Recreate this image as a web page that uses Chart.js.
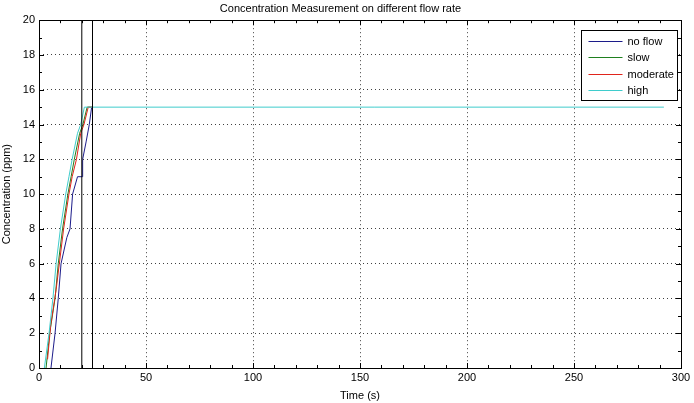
<!DOCTYPE html>
<html>
<head>
<meta charset="utf-8">
<script src="https://cdn.jsdelivr.net/npm/chart.js@4.4.0/dist/chart.umd.min.js"></script>
<style>
  html, body { margin: 0; padding: 0; background: #fff; }
  #wrap { width: 694px; height: 403px; }
</style>
</head>
<body>
<div id="wrap"><canvas id="chart"></canvas></div>
<script>
// series: time (s) and concentration (ppm)
const seriesNames = ["no flow", "slow", "moderate", "high"];
const seriesColors = ["#1c1c8a", "#1f801f", "#e0241c", "#3fcccc"];

const noFlowTime = [5.6, 7.5, 9, 10.3, 13, 14.5, 15.7, 18, 20.4, 20.4, 22, 23.5, 24.6, 25];
const noFlowConc = [0, 2, 4, 6, 7.5, 8, 10, 11, 11, 12, 13, 14, 15, 15];

const slowTime = [3.3, 5, 7.5, 9, 11, 13.5, 15, 16.5, 19, 20.5, 22.5, 25];
const slowConc = [0, 2, 4, 6, 8, 10, 11, 12, 13.5, 14, 15, 15];

const moderateTime = [4, 5.5, 8, 9.5, 11.5, 14, 15.5, 17.5, 19.5, 21, 23, 25];
const moderateConc = [0.5, 2.5, 4.5, 6, 8, 10, 11, 12, 13.5, 14, 15, 15];

const highTime = [2.5, 4.7, 6.5, 8, 10, 12.5, 14, 15.5, 18, 19.5, 21.2, 292];
const highConc = [0, 2, 4, 6, 8, 10, 11, 12, 13.5, 14, 15, 15];

// the black marker box
const boxTime = [20, 20, 25, 25];
const boxConc = [0, 20, 20, 0];

const xTicks = [0, 50, 100, 150, 200, 250, 300];
const yTicks = [0, 2, 4, 6, 8, 10, 12, 14, 16, 18, 20];

function pts(t, c) {
  return t.map((v, i) => ({ x: v, y: c[i] }));
}

const allTimes = [noFlowTime, slowTime, moderateTime, highTime];
const allConcs = [noFlowConc, slowConc, moderateConc, highConc];

const datasets = seriesNames.map((name, i) => ({
  label: name,
  data: pts(allTimes[i], allConcs[i]),
  borderColor: seriesColors[i],
  borderWidth: 1,
  showLine: true,
  pointRadius: 0,
  fill: false,
  order: 4 - i,
}));
datasets.push({
  label: "box",
  data: pts(boxTime, boxConc),
  borderColor: "#000",
  borderWidth: 1,
  showLine: true,
  pointRadius: 0,
  fill: false,
  order: 0,
});

const fontFam = "'Liberation Sans', Arial, sans-serif";

// matlab style: inward ticks on all sides and a full box
const boxTicks = {
  id: "boxTicks",
  afterDraw(chart) {
    const ctx = chart.ctx;
    const a = chart.chartArea;
    const xs = chart.scales.x;
    const ys = chart.scales.y;
    ctx.save();
    ctx.strokeStyle = "#000";
    ctx.lineWidth = 1;
    ctx.beginPath();
    for (let v = 0; v <= 300; v += 10) {
      const px = Math.round(xs.getPixelForValue(v)) + 0.5;
      const len = v % 50 === 0 ? 5 : 3;
      ctx.moveTo(px, a.bottom);
      ctx.lineTo(px, a.bottom - len);
      ctx.moveTo(px, a.top);
      ctx.lineTo(px, a.top + len);
    }
    for (let v = 0; v <= 20; v += 1) {
      const py = Math.round(ys.getPixelForValue(v)) + 0.5;
      const len = v % 2 === 0 ? 5 : 3;
      ctx.moveTo(a.left, py);
      ctx.lineTo(a.left + len, py);
      ctx.moveTo(a.right, py);
      ctx.lineTo(a.right - len, py);
    }
    ctx.stroke();
    ctx.strokeRect(Math.round(a.left) + 0.5, Math.round(a.top) + 0.5,
      Math.round(a.right - a.left), Math.round(a.bottom - a.top));
    ctx.restore();
  },
};

// legend box inside the axes, top right
const insideLegend = {
  id: "insideLegend",
  afterDraw(chart) {
    const ctx = chart.ctx;
    const a = chart.chartArea;
    const w = 96, h = 70, rowH = 16.3;
    const x0 = Math.round(a.right - 4 - w) + 0.5;
    const y0 = Math.round(a.top + 10) + 0.5;
    ctx.save();
    ctx.fillStyle = "#fff";
    ctx.fillRect(x0, y0, w, h);
    ctx.strokeStyle = "#000";
    ctx.lineWidth = 1;
    ctx.strokeRect(x0, y0, w, h);
    ctx.font = "11px " + fontFam;
    ctx.textBaseline = "middle";
    seriesNames.forEach((name, i) => {
      const y = Math.round(y0 + 10.5 + i * rowH) + 0.5;
      ctx.strokeStyle = seriesColors[i];
      ctx.beginPath();
      ctx.moveTo(x0 + 7, y);
      ctx.lineTo(x0 + 41, y);
      ctx.stroke();
      ctx.fillStyle = "#000";
      ctx.fillText(name, x0 + 46, y);
    });
    ctx.restore();
  },
};

const gridColor = "rgba(0,0,0,0.75)";

new Chart(document.getElementById("chart"), {
  type: "scatter",
  data: { datasets: datasets },
  options: {
    responsive: true,
    maintainAspectRatio: false,
    animation: false,
    layout: { padding: { left: 0, right: 13, top: 0, bottom: 0 } },
    plugins: {
      legend: { display: false },
      tooltip: { enabled: false },
      title: {
        display: true,
        text: "Concentration Measurement on different flow rate",
        color: "#000",
        font: { family: fontFam, size: 11, weight: "normal" },
        padding: { top: 2, bottom: 5 },
      },
    },
    scales: {
      x: {
        type: "linear",
        min: 0,
        max: 300,
        afterBuildTicks(scale) {
          scale.ticks = xTicks.map((v) => ({ value: v }));
        },
        afterFit(scale) {
          scale.height = 35;
        },
        grid: {
          color: (c) => (c.tick && c.tick.value > 0 && c.tick.value < 300 ? gridColor : "transparent"),
          drawTicks: false,
          lineWidth: 1,
        },
        border: { display: false, dash: [1, 3] },
        ticks: {
          color: "#000",
          padding: 3,
          maxRotation: 0,
          font: { family: fontFam, size: 11 },
        },
        title: {
          display: true,
          text: "Time (s)",
          color: "#000",
          font: { family: fontFam, size: 11 },
          padding: { top: 1, bottom: 0 },
        },
      },
      y: {
        type: "linear",
        min: 0,
        max: 20,
        afterBuildTicks(scale) {
          scale.ticks = yTicks.map((v) => ({ value: v }));
        },
        afterFit(scale) {
          scale.width = 39;
        },
        grid: {
          color: (c) => (c.tick && c.tick.value > 0 && c.tick.value < 20 ? gridColor : "transparent"),
          drawTicks: false,
          lineWidth: 1,
        },
        border: { display: false, dash: [1, 3] },
        ticks: {
          color: "#000",
          padding: 4,
          font: { family: fontFam, size: 11 },
        },
        title: {
          display: true,
          text: "Concentration (ppm)",
          color: "#000",
          font: { family: fontFam, size: 11 },
          padding: { top: 0, bottom: 0 },
        },
      },
    },
  },
  plugins: [boxTicks, insideLegend],
});
</script>
</body>
</html>
